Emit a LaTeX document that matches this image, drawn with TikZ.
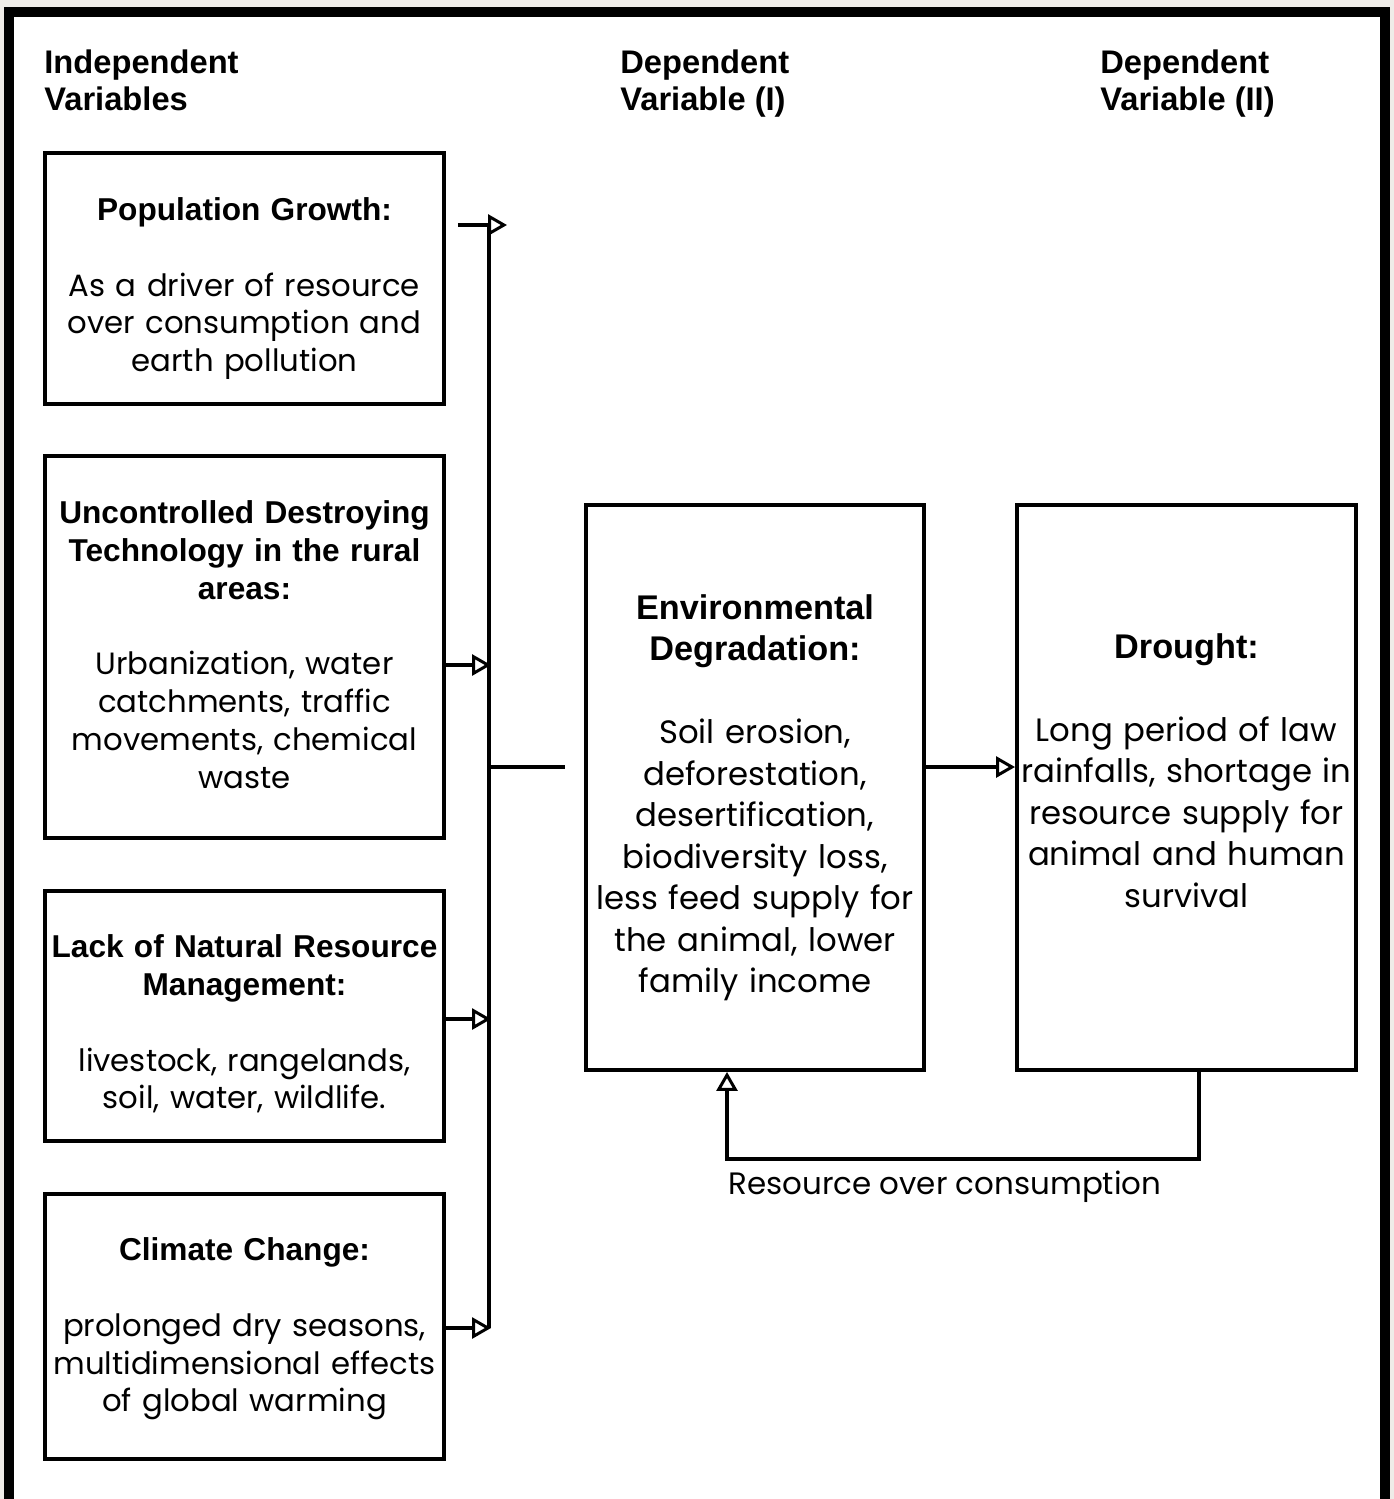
\documentclass[tikz,border=0pt]{standalone}
\usepackage{fontspec}
\setmainfont{Poppins}
\newfontfamily\headfont{Liberation Sans}
\usetikzlibrary{positioning, arrows.meta, calc}
\definecolor{paper}{HTML}{EFECE8}
\newcommand{\hdsz}{18}
\newcommand{\hd}[1]{{\headfont\bfseries\fontsize{\hdsz}{\baselineskip}\selectfont #1}}
\newcommand{\pushdn}[1]{\rule{0pt}{#1}}
\newcommand{\pushup}[1]{\rule[-#1]{0pt}{#1}}

\begin{document}
\begin{tikzpicture}[x=0.02cm, y=-0.02cm,
  box/.style={
    rectangle, draw=black, line width=0.08cm, fill=white,
    minimum width=7.98cm, inner sep=0pt, text width=7.9cm,
    align=center, font=\fontsize{17.5}{21.5}\selectfont\renewcommand{\hdsz}{18}
  },
  bigbox/.style={
    box, minimum width=6.76cm, minimum height=11.3cm, text width=6.7cm,
    font=\fontsize{18.4}{23.6}\selectfont\renewcommand{\hdsz}{19.5}
  },
  title/.style={anchor=north west, inner sep=0pt, align=left,
    font=\headfont\bfseries\fontsize{18.6}{21.6}\selectfont},
  line/.style={line width=0.08cm},
  arr/.style={-{Triangle[open, length=0.38cm, width=0.42cm, line width=0.06cm]}, line width=0.08cm},
]
\useasboundingbox (0,0) rectangle (1394,1499);

% Frame
\fill[paper] (0,0) rectangle (1394,1499);
\fill[white] (14,17) rectangle (1380,1499);
\draw[line width=0.2cm] (9,12) rectangle (1385,1504);

% Column titles
\node[title] (indep) at (44,49) {Independent\\Variables};
\node[title] (depone) at (620,49) {Dependent\\Variable (I)};
\node[title] (deptwo) at (1100,49) {Dependent\\Variable (II)};

% Independent variables
\node[box, minimum height=5.02cm] (pop) at (244.5,278.5)
  {\pushdn{24.6pt}\hd{Population Growth:}\\[\baselineskip]
   As a driver of resource\\over consumption and\\earth pollution};
\node[box, minimum height=7.64cm] (tech) at (244.5,647)
  {\hd{Uncontrolled Destroying}\\\hd{Technology in the rural}\\\hd{areas:}\\[\baselineskip]
   Urbanization, water\\catchments, traffic\\movements, chemical\\waste\pushup{3pt}};
\node[box, minimum height=5.0cm] (nrm) at (244.5,1016)
  {\pushdn{22.2pt}\hd{Lack of Natural Resource}\\\hd{Management:}\\[\baselineskip]
   livestock, rangelands,\\soil, water, wildlife.};
\node[box, minimum height=5.3cm] (climate) at (244.5,1326.5)
  {\pushdn{16pt}\hd{Climate Change:}\\[\baselineskip]
   prolonged dry seasons,\\multidimensional effects\\of global warming};

% Dependent variables
\node[bigbox] (envdeg) at (755,787.5)
  {\pushdn{25.7pt}\hd{Environmental}\\\hd{Degradation:}\\[\baselineskip]
   Soil erosion,\\deforestation,\\desertification,\\biodiversity loss,\\less feed supply for\\the animal, lower\\family income};
\node[bigbox, minimum width=6.78cm] (drought) at (1186.5,787.5)
  {\hd{Drought:}\\[\baselineskip]
   Long period of law\\rainfalls, shortage in\\resource supply for\\animal and human\\survival\pushup{19.3pt}};

% Bus
\coordinate (bustop) at (489,225);
\coordinate (busbot) at (489,1328);
\coordinate (busmid) at (489,767);
\coordinate (taptech) at (491,665);
\coordinate (tapnrm) at (491,1019);
\coordinate (tapclim) at (491,1328);
\draw[line] (bustop) -- (busbot);

% Arrows
\draw[arr, shorten <=0.24cm] (pop.east |- bustop) -- ([xshift=0.36cm]bustop);
\draw[arr] (tech.east |- taptech) -- (taptech);
\draw[arr] (nrm.east |- tapnrm) -- (tapnrm);
\draw[arr] (climate.east |- tapclim) -- (tapclim);
\draw[line] (busmid) -- ([xshift=-0.38cm]envdeg.west |- busmid);
\draw[arr] (envdeg.east |- busmid) -- (drought.west |- busmid);

% Feedback
\coordinate (fbR) at (1199,1159);
\coordinate (fbL) at (727,1159);
\draw[arr] (drought.south -| fbR) -- (fbR) -- (fbL) -- (envdeg.south -| fbL);
\node[anchor=north west, inner sep=0pt, font=\fontsize{17.6}{20}\selectfont] (fblabel) at (728,1171)
  {Resource over consumption};
\end{tikzpicture}
\end{document}
